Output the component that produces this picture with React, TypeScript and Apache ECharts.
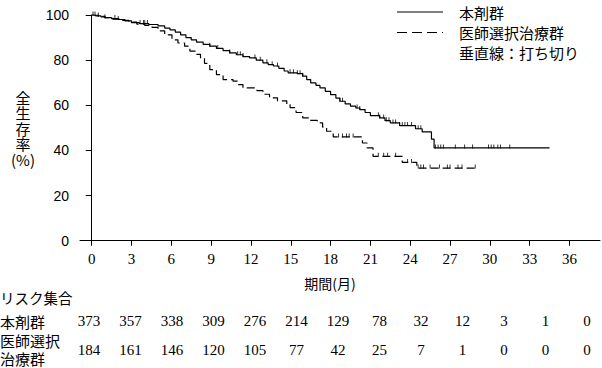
import React, { useEffect, useRef } from "react";
import * as echarts from "echarts";

const xTicks = [0, 3, 6, 9, 12, 15, 18, 21, 24, 27, 30, 33, 36];
const yTicks = [0, 20, 40, 60, 80, 100];

const drugName = "本剤群";
const physName = "医師選択治療群";
const censorNote = "垂直線：打ち切り";
const yTitle = ["全", "生", "存", "率", "(%)"];
const xTitle = "期間(月)";
const riskTitle = "リスク集合";
const riskLabelDrug = ["本剤群"];
const riskLabelPhys = ["医師選択", "治療群"];

const riskDrug = [373, 357, 338, 309, 276, 214, 129, 78, 32, 12, 3, 1, 0];
const riskPhys = [184, 161, 146, 120, 105, 77, 42, 25, 7, 1, 0, 0, 0];

const drugSteps: [number, number][] = [
  [0, 100], [0.3, 99.6], [0.7, 99.2], [1.0, 98.8], [1.5, 98.4], [2.0, 98.0], [2.5, 97.4],
  [3.0, 96.6], [3.6, 96.2], [4.3, 95.8], [5.0, 95.2], [5.5, 94.2], [5.9, 93.4], [6.3, 92.4],
  [6.7, 91.2], [7.1, 90.0], [7.5, 89.0], [7.9, 88.0], [8.4, 87.0], [8.9, 86.2], [9.4, 85.2],
  [9.9, 84.2], [10.4, 83.2], [10.9, 82.4], [11.4, 81.6], [11.9, 81.0], [12.4, 80.0],
  [12.9, 78.8], [13.3, 78.0], [13.7, 77.4], [14.1, 76.4], [14.5, 75.2], [14.8, 74.4],
  [15.5, 74.0], [15.9, 72.9], [16.2, 71.4], [16.5, 69.9], [16.9, 68.8], [17.2, 67.7],
  [17.6, 66.2], [18.0, 64.7], [18.4, 63.2], [18.7, 61.8], [19.1, 60.6], [19.5, 59.6],
  [19.9, 58.8], [20.2, 58.1], [20.6, 56.8], [21.0, 55.4], [21.7, 54.4], [22.1, 53.2],
  [22.5, 52.2], [23.2, 51.0], [24.4, 49.6], [24.9, 48.2], [25.6, 45.0], [25.8, 41.1],
  [34.5, 41.1],
];

const physSteps: [number, number][] = [
  [0, 100], [0.5, 99.4], [1.0, 98.8], [1.6, 98.2], [2.2, 97.6], [2.8, 96.8], [3.4, 96.0],
  [4.0, 95.4], [4.55, 94.5], [5.0, 93.0], [5.5, 91.2], [6.05, 89.0], [6.5, 87.6], [7.0, 86.2],
  [7.4, 84.0], [7.8, 82.6], [8.2, 81.0], [8.5, 78.6], [8.9, 75.8], [9.4, 73.6], [9.9, 71.4],
  [10.65, 70.7], [11.0, 69.2], [11.4, 67.7], [12.45, 66.5], [12.9, 64.9], [13.4, 63.3],
  [14.0, 62.0], [14.7, 60.3], [14.95, 59.0], [15.4, 56.8], [15.9, 54.4], [16.4, 53.3],
  [17.0, 52.2], [17.4, 50.3], [17.7, 48.5], [18.2, 46.0], [20.4, 43.3], [20.75, 41.1],
  [21.2, 37.4], [23.4, 34.7], [24.5, 32.2], [29.0, 32.2],
];

const drugCensor = [
  0.1, 0.25, 0.5, 1.0, 1.75, 2.0, 3.65, 3.9, 4.0, 4.2, 8.9, 9.5, 10.4, 11.0, 11.2, 11.4,
  12.3, 12.7, 13.2, 13.6, 14.0, 14.95, 15.2, 15.5, 15.7, 15.9, 18.7, 18.9, 20.0, 20.2,
  21.6, 21.7, 22.0, 22.2, 22.4, 22.7, 22.9, 23.2, 23.4, 23.6, 23.8, 24.1, 24.6, 24.8,
  25.9, 26.1, 26.3, 26.5, 27.4, 28.1, 28.7, 29.9, 30.1, 30.3, 30.6, 30.8, 31.5,
];

const physCensor = [
  18.6, 18.9, 19.2, 19.4, 19.7, 21.6, 22.0, 22.3, 22.9, 23.8, 24.1, 24.6, 24.8, 25.0,
  25.5, 26.2, 26.8, 27.0, 27.6, 27.9, 28.9,
];

function survivalAt(steps: [number, number][], t: number): number {
  let v = steps[0][1];
  for (const [s, p] of steps) {
    if (s <= t) v = p;
    else break;
  }
  return v;
}

const CJK = "'Noto Sans CJK JP', sans-serif";
const SERIF = "'Liberation Serif', 'Times New Roman', 'DejaVu Serif', serif";
const SANS = "'Liberation Sans', Arial, sans-serif";

export default function App() {
  const ref = useRef<HTMLDivElement>(null);
  useEffect(() => {
    if (!ref.current) return;
    const chart = echarts.init(ref.current, undefined, { renderer: "svg" });

    const colX0 = 89;
    const colStep = 41.5;
    const graphics: any[] = [];
    const txt = (text: string, x: number, y: number, size: number, family: string, align = "left") => ({
      type: "text",
      x,
      y,
      style: {
        text,
        fontSize: size,
        fontFamily: family,
        fill: "#000",
        align,
        verticalAlign: "middle",
      },
    });
    // legend
    graphics.push({
      type: "line",
      shape: { x1: 397, y1: 12, x2: 443, y2: 12 },
      style: { stroke: "#000", lineWidth: 1.2 },
    });
    graphics.push({
      type: "line",
      shape: { x1: 397, y1: 32.5, x2: 443, y2: 32.5 },
      style: { stroke: "#000", lineWidth: 1.2, lineDash: [10, 5] },
    });
    [drugName, physName, censorNote].forEach((t, i) => {
      graphics.push(txt(t, 459, 12.5 + i * 20, 15, CJK));
    });
    // y title: stacked glyphs
    graphics.push({
      type: "text",
      x: 23,
      y: 128,
      style: {
        text: yTitle.join("\n"),
        fontSize: 15,
        fontFamily: CJK,
        lineHeight: 15.5,
        fill: "#000",
        align: "center",
        verticalAlign: "middle",
      },
    });
    // x title
    graphics.push(txt(xTitle, 330, 283, 14, CJK, "center"));
    // risk table
    graphics.push(txt(riskTitle, 0, 297, 14.5, CJK));
    graphics.push(txt(riskLabelDrug[0], 0, 321, 15, CJK));
    riskLabelPhys.forEach((t, i) => graphics.push(txt(t, 0, 340.5 + i * 18, 15, CJK)));
    riskDrug.forEach((v, i) => graphics.push(txt(String(v), colX0 + i * colStep, 321, 15, SERIF, "center")));
    riskPhys.forEach((v, i) => graphics.push(txt(String(v), colX0 + i * colStep, 350, 15, SERIF, "center")));

    const censorSeries = (times: number[], steps: [number, number][]) => ({
      type: "scatter",
      data: times.map((t) => [t, survivalAt(steps, t)]),
      symbol: "rect",
      symbolSize: [1, 4],
      symbolOffset: [0, -1.5],
      itemStyle: { color: "#000" },
      silent: true,
      z: 3,
    });

    chart.setOption({
      animation: false,
      grid: { left: 80, right: 2, top: 15, bottom: 125, containLabel: false },
      xAxis: {
        type: "value",
        min: -0.88,
        max: 38.3,
        axisLine: { show: true, lineStyle: { color: "#000", width: 1 } },
        axisTick: { show: true, customValues: xTicks, length: 5, lineStyle: { color: "#000" } },
        axisLabel: {
          customValues: xTicks,
          color: "#000",
          fontFamily: SERIF,
          fontSize: 15,
          margin: 8,
          formatter: (v: number) => String(Math.round(v)),
        },
        splitLine: { show: false },
      },
      yAxis: {
        type: "value",
        min: -1,
        max: 100,
        axisLine: { show: true, lineStyle: { color: "#000", width: 1 } },
        axisTick: { show: true, customValues: yTicks, length: 6, lineStyle: { color: "#000" } },
        axisLabel: {
          customValues: yTicks,
          color: "#000",
          fontFamily: SANS,
          fontSize: 14,
          margin: 11,
          formatter: (v: number) => String(Math.round(v)),
        },
        splitLine: { show: false },
      },
      series: [
        {
          type: "line",
          step: "end",
          data: drugSteps,
          showSymbol: false,
          lineStyle: { color: "#000", width: 1.2 },
          z: 2,
        },
        {
          type: "line",
          step: "end",
          data: physSteps,
          showSymbol: false,
          lineStyle: { color: "#000", width: 1.2, type: [8, 4] },
          z: 2,
        },
        censorSeries(drugCensor, drugSteps),
        censorSeries(physCensor, physSteps),
      ],
      graphic: graphics,
    });
    return () => chart.dispose();
  }, []);
  return (
    <div
      ref={ref}
      style={{ position: "fixed", left: 0, top: 0, width: 602, height: 368, background: "#fff" }}
    />
  );
}
